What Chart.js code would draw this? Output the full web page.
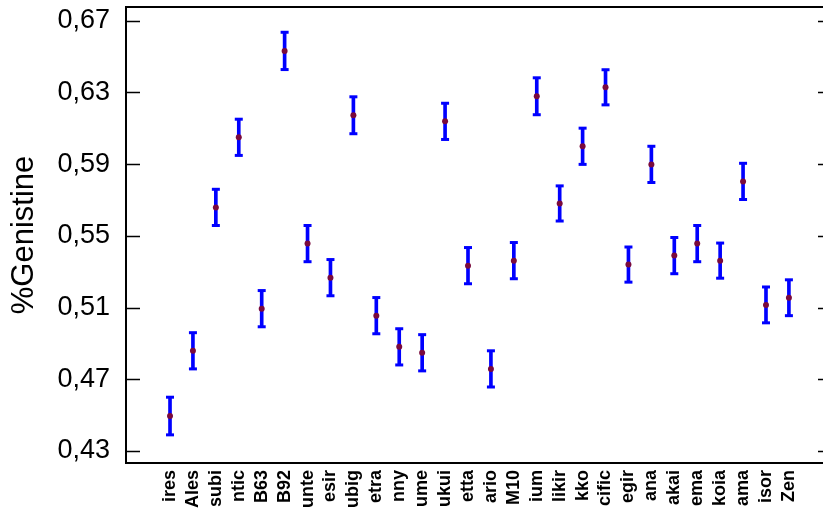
<!DOCTYPE html>
<html>
<head>
<meta charset="utf-8">
<script src="https://cdn.jsdelivr.net/npm/chart.js@4/dist/chart.umd.min.js"></script>
<style>
  html, body { margin: 0; padding: 0; background: #fff; overflow: hidden; }
  #wrap { width: 823px; height: 512px; overflow: hidden; }
</style>
</head>
<body>
<div id="wrap"><canvas id="chart" width="840" height="512"></canvas></div>
<script>
// varieties (only the tail of each name is visible in the source)
const categories = ["ires", "Ales", "subi", "ntic", "B63", "B92", "unte", "esir", "ubig", "etra",
  "nny", "ume", "ukui", "etta", "ario", "M10", "ium", "likir", "kko", "cific",
  "egir", "ana", "akai", "ema", "koia", "ama", "isor", "Zen"];

const means = [0.4495, 0.4859, 0.5659, 0.6050, 0.5094, 0.6532, 0.5457, 0.5267, 0.6173, 0.5055,
  0.4881, 0.4848, 0.6139, 0.5334, 0.4758, 0.5362, 0.6279, 0.5681, 0.6000, 0.6329,
  0.5340, 0.5899, 0.5390, 0.5457, 0.5362, 0.5804, 0.5115, 0.5155];

const errors = [0.0105, 0.0101, 0.0101, 0.0101, 0.0101, 0.0104, 0.0101, 0.0101, 0.0103, 0.0101,
  0.0101, 0.0101, 0.0101, 0.0101, 0.0101, 0.0101, 0.0103, 0.0098, 0.0101, 0.0098,
  0.0098, 0.0101, 0.0101, 0.0101, 0.0098, 0.0101, 0.0100, 0.0100];

const yTicks = [0.43, 0.47, 0.51, 0.55, 0.59, 0.63, 0.67];

const FONT = "'Liberation Sans', Arial, sans-serif";

const frame = {
  id: "frame",
  afterDraw(chart) {
    const { ctx, chartArea: a, scales: { y } } = chart;
    ctx.save();
    ctx.strokeStyle = "#000";
    ctx.lineWidth = 1.5;
    yTicks.forEach(function (v) {
      const py = Math.round(y.getPixelForValue(v)) + 0.5;
      ctx.beginPath();
      ctx.moveTo(a.left, py); ctx.lineTo(a.left + 14, py);
      ctx.moveTo(a.right, py); ctx.lineTo(a.right - 14, py);
      ctx.stroke();
    });
    ctx.lineWidth = 2;
    ctx.strokeRect(a.left, a.top, a.right - a.left, a.bottom - a.top);
    ctx.restore();
  }
};

function noPad(s) {
  s.paddingTop = 0; s.paddingBottom = 0; s.paddingLeft = 0; s.paddingRight = 0;
}

const lows = means.map((m, i) => m - errors[i]);
const highs = means.map((m, i) => m + errors[i]);

new Chart(document.getElementById("chart"), {
  type: "bar",
  data: {
    datasets: [
      {
        type: "line",
        label: "mean",
        data: means.map((m, i) => ({ x: i, y: m })),
        showLine: false,
        pointStyle: "circle",
        pointRadius: 3,
        pointBorderWidth: 0,
        pointBackgroundColor: "#7a0a3c",
        order: 0
      },
      {
        type: "line",
        label: "caps",
        data: lows.map((v, i) => ({ x: i, y: v })).concat(highs.map((v, i) => ({ x: i, y: v }))),
        showLine: false,
        pointStyle: "line",
        pointRadius: 4,
        pointBorderWidth: 3,
        pointBorderColor: "#0000ff",
        order: 1
      },
      {
        type: "bar",
        label: "range",
        data: means.map((m, i) => ({ x: i, y: [lows[i], highs[i]] })),
        backgroundColor: "#0000ff",
        barThickness: 3,
        order: 2
      }
    ]
  },
  options: {
    responsive: false,
    animation: false,
    layout: { padding: { top: 7, right: 8, left: 0, bottom: 0 } },
    plugins: { legend: { display: false }, tooltip: { enabled: false } },
    scales: {
      x: {
        type: "linear",
        min: -1.37,
        max: 28.33,
        grid: { display: false },
        border: { display: false },
        afterBuildTicks(s) { s.ticks = categories.map((_, i) => ({ value: i })); },
        afterFit(s) { s.height = 49; noPad(s); },
        ticks: {
          autoSkip: false,
          minRotation: 90,
          maxRotation: 90,
          padding: -1,
          color: "#000",
          font: { family: FONT, size: 18, weight: "bold" },
          callback: (v) => categories[v] || ""
        }
      },
      y: {
        min: 0.4233,
        max: 0.6777,
        grid: { display: false },
        border: { display: false },
        afterBuildTicks(s) { s.ticks = yTicks.map(v => ({ value: v })); },
        afterFit(s) { s.width = 126; noPad(s); },
        ticks: {
          padding: 8,
          color: "#000",
          font: { family: FONT, size: 27 },
          callback: (v) => v.toFixed(2).replace(".", ",")
        },
        title: {
          display: true,
          text: "%Genistine",
          color: "#000",
          font: { family: FONT, size: 31 },
          padding: { top: 6, bottom: 0 }
        }
      }
    }
  },
  plugins: [frame]
});
</script>
</body>
</html>
